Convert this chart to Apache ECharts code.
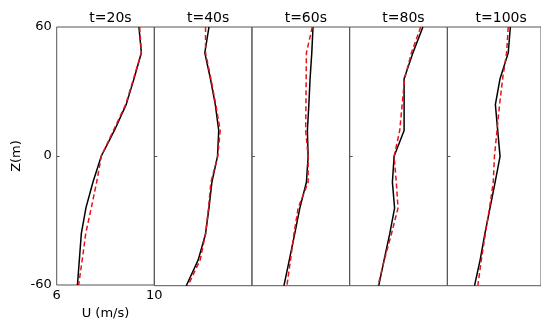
<!DOCTYPE html>
<html>
<head>
<meta charset="utf-8">
<script src="https://cdn.jsdelivr.net/npm/echarts@6/dist/echarts.min.js"></script>
<style>html,body{margin:0;padding:0;background:#fff;}#c{width:541px;height:325px;}</style>
</head>
<body>
<div id="c"></div>
<script>
// Data
var panelTitles = ['t=20s', 't=40s', 't=60s', 't=80s', 't=100s'];
var zLevels = [60, 48, 36, 24, 12, 0, -12, -24, -36, -48, -60];
var blackU_20  = [9.37, 9.47, 9.17, 8.85, 8.37, 7.83, 7.49, 7.20, 7.01, 6.93, 6.85];
var redU_20    = [9.40, 9.47, 9.15, 8.83, 8.33, 7.83, 7.64, 7.42, 7.19, 7.05, 6.90];
var blackU_40  = [8.24, 8.07, 8.30, 8.50, 8.64, 8.59, 8.36, 8.24, 8.10, 7.80, 7.31];
var redU_40    = [8.10, 8.10, 8.32, 8.52, 8.70, 8.60, 8.32, 8.22, 8.10, 7.88, 7.38];
var blackU_60  = [8.50, 8.45, 8.38, 8.33, 8.27, 8.30, 8.23, 7.96, 7.75, 7.53, 7.31];
var redU_60    = [8.47, 8.23, 8.22, 8.21, 8.20, 8.30, 8.30, 7.89, 7.72, 7.58, 7.43];
var blackU_80  = [9.00, 8.59, 8.23, 8.23, 8.23, 7.82, 7.75, 7.84, 7.64, 7.41, 7.19];
var redU_80    = [8.91, 8.53, 8.25, 8.15, 8.05, 7.82, 7.91, 7.98, 7.71, 7.42, 7.16];
var blackU_100 = [8.69, 8.60, 8.25, 8.05, 8.15, 8.25, 8.04, 7.82, 7.60, 7.40, 7.16];
var redU_100   = [8.60, 8.53, 8.36, 8.23, 8.12, 8.01, 7.96, 7.80, 7.62, 7.45, 7.30];
var xTickLabels = [6, 10];
var yTickLabels = [-60, 0, 60];
var yTickMarks = [0];
var xName = 'U (m/s)';
var yName = 'Z(m)';

var blackSets = [blackU_20, blackU_40, blackU_60, blackU_80, blackU_100];
var redSets = [redU_20, redU_40, redU_60, redU_80, redU_100];

var font = 'DejaVu Sans';
var lefts = [56.7, 154.3, 252, 349.7, 447.4];
var W = 97.6, TOP = 27, H = 258.7;

function pairs(u) { return u.map(function (v, i) { return [v, zLevels[i]]; }); }

var grids = [], xAxes = [], yAxes = [], series = [], titles = [];
for (var p = 0; p < 5; p++) {
  grids.push({left: lefts[p], top: TOP, width: W, height: H, show: true,
    borderColor: '#555', borderWidth: 1, backgroundColor: 'transparent', containLabel: false});
  xAxes.push({type: 'value', gridIndex: p, min: 6, max: 10, interval: 2,
    axisLine: {show: false}, axisTick: {show: false}, splitLine: {show: false},
    axisLabel: {show: p === 0, margin: 4, color: '#000', fontFamily: font, fontSize: 13,
      formatter: function (v) { return xTickLabels.indexOf(v) >= 0 ? String(v) : ''; }},
    name: p === 0 ? xName : '', nameLocation: 'middle', nameGap: 22,
    nameTextStyle: {color: '#000', fontFamily: font, fontSize: 13}});
  yAxes.push({type: 'value', gridIndex: p, min: -60, max: 60, interval: 60,
    axisLine: {show: false}, splitLine: {show: false},
    axisTick: {show: true, inside: true, length: 3, customValues: yTickMarks, lineStyle: {color: '#555'}},
    axisLabel: {show: p === 0, margin: 5, color: '#000', fontFamily: font, fontSize: 13,
      formatter: function (v) { return yTickLabels.indexOf(v) >= 0 ? String(v) : ''; }},
    name: p === 0 ? yName : '', nameLocation: 'middle', nameGap: 34, nameRotate: 90,
    nameTextStyle: {color: '#000', fontFamily: font, fontSize: 13}});
  series.push({type: 'line', xAxisIndex: p, yAxisIndex: p, data: pairs(blackSets[p]),
    showSymbol: false, symbol: 'none', lineStyle: {color: '#000', width: 1.5}, z: 2, animation: false});
  series.push({type: 'line', xAxisIndex: p, yAxisIndex: p, data: pairs(redSets[p]),
    showSymbol: false, symbol: 'none', lineStyle: {color: '#e8101a', width: 1.5, type: [5, 3]}, z: 3, animation: false});
  titles.push({text: panelTitles[p], left: lefts[p] + W / 2, top: 6, textAlign: 'center',
    textStyle: {color: '#000', fontFamily: font, fontSize: 14, fontWeight: 'normal'}});
}

var chart = echarts.init(document.getElementById('c'), null, {renderer: 'canvas'});
chart.setOption({
  animation: false,
  backgroundColor: '#fff',
  title: titles,
  grid: grids,
  xAxis: xAxes,
  yAxis: yAxes,
  series: series
});
</script>
</body>
</html>
